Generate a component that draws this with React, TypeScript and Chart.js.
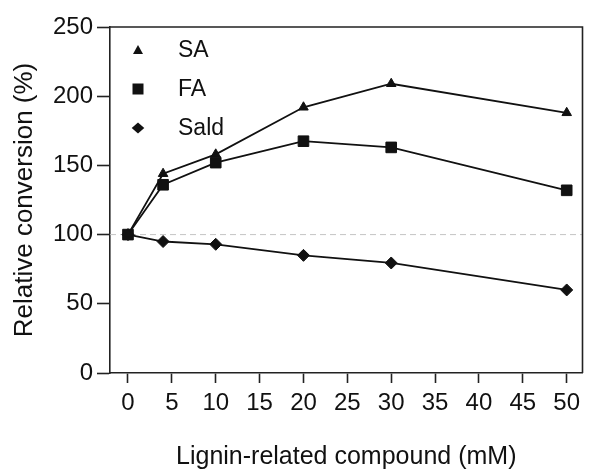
import { useEffect, useRef } from 'react';
import { Chart, registerables } from 'chart.js';

Chart.register(...registerables);

const concentrations = [0, 4, 10, 20, 30, 50];
const saValues = [100, 144, 158, 192, 209, 188];
const faValues = [100, 136, 152, 167.5, 163, 132];
const saldValues = [100, 95, 93, 85, 79.5, 60];
const seriesNames = ['SA', 'FA', 'Sald'];
const xTickValues = [0, 5, 10, 15, 20, 25, 30, 35, 40, 45, 50];
const yTickValues = [0, 50, 100, 150, 200, 250];
const referenceLevel = 100;
const xTitle = 'Lignin-related compound (mM)';
const yTitle = 'Relative conversion (%)';

const FONT = "'Liberation Sans', Arial, Helvetica, sans-serif";
const INK = '#111';

function drawMarker(ctx: CanvasRenderingContext2D, style: string, x: number, y: number) {
  ctx.beginPath();
  if (style === 'triangle') {
    ctx.moveTo(x, y - 5);
    ctx.lineTo(x + 5, y + 4);
    ctx.lineTo(x - 5, y + 4);
    ctx.closePath();
  } else if (style === 'rect') {
    ctx.rect(x - 5.5, y - 5.5, 11, 11);
  } else {
    ctx.moveTo(x, y - 5.5);
    ctx.lineTo(x + 6.3, y);
    ctx.lineTo(x, y + 5.5);
    ctx.lineTo(x - 6.3, y);
    ctx.closePath();
  }
  ctx.fill();
}

const decorPlugin = {
  id: 'decor',
  beforeDatasetsDraw(chart: any) {
    const { ctx, chartArea, scales } = chart;
    const y = scales.y.getPixelForValue(referenceLevel);
    ctx.save();
    ctx.strokeStyle = '#c4c4c4';
    ctx.lineWidth = 1;
    ctx.setLineDash([6, 4]);
    ctx.beginPath();
    ctx.moveTo(chartArea.left, y);
    ctx.lineTo(chartArea.right, y);
    ctx.stroke();
    ctx.restore();
  },
  afterDraw(chart: any) {
    const { ctx, chartArea } = chart;
    ctx.save();
    ctx.strokeStyle = '#222';
    ctx.lineWidth = 1.6;
    ctx.beginPath();
    ctx.moveTo(chartArea.left, chartArea.top);
    ctx.lineTo(chartArea.right, chartArea.top);
    ctx.lineTo(chartArea.right, chartArea.bottom);
    ctx.stroke();
    // legend
    const styles = ['triangle', 'rect', 'rectRot'];
    ctx.fillStyle = INK;
    ctx.font = `23px ${FONT}`;
    ctx.textBaseline = 'middle';
    ctx.textAlign = 'left';
    seriesNames.forEach((name, i) => {
      const cy = chartArea.top + 23 + i * 39;
      drawMarker(ctx, styles[i], chartArea.left + 28, cy);
      ctx.fillText(name, chartArea.left + 68, cy + 1);
    });
    ctx.restore();
  },
};

export default function App() {
  const ref = useRef<HTMLCanvasElement>(null);
  useEffect(() => {
    document.body.style.margin = '0';
    const toPoints = (vals: number[]) => concentrations.map((x, i) => ({ x, y: vals[i] }));
    const common = {
      borderColor: INK,
      backgroundColor: INK,
      pointBackgroundColor: INK,
      pointBorderColor: INK,
      borderWidth: 1.8,
      pointBorderWidth: 1,
      tension: 0,
    };
    const chart = new Chart(ref.current!, {
      type: 'scatter',
      data: {
        datasets: [
          { ...common, label: seriesNames[0], data: toPoints(saValues), showLine: true, pointStyle: 'triangle', pointRadius: 5.5 },
          { ...common, label: seriesNames[1], data: toPoints(faValues), showLine: true, pointStyle: 'rect', pointRadius: 7.5 },
          { ...common, label: seriesNames[2], data: toPoints(saldValues), showLine: true, pointStyle: 'rectRot', pointRadius: 6 },
        ],
      },
      options: {
        responsive: false,
        animation: false,
        events: [],
        layout: { padding: { top: 27, right: 3, left: 0, bottom: 0 } },
        plugins: { legend: { display: false }, tooltip: { enabled: false } },
        scales: {
          x: {
            type: 'linear',
            min: -2.05,
            max: 51.8,
            afterFit: (s: any) => { s.height = 97; },
            afterBuildTicks: (s: any) => { s.ticks = xTickValues.map((v) => ({ value: v })); },
            border: { color: '#222', width: 1.6 },
            grid: { drawOnChartArea: false, drawTicks: true, tickLength: 10, tickColor: '#222', tickWidth: 1.6 },
            ticks: { color: INK, font: { family: FONT, size: 24 }, padding: 6, maxRotation: 0 },
            title: { display: true, text: xTitle, color: INK, font: { family: FONT, size: 25, lineHeight: 1 }, padding: { top: 0, bottom: 0 } },
          },
          y: {
            type: 'linear',
            min: 0,
            max: 250,
            afterFit: (s: any) => { s.width = 110; },
            afterBuildTicks: (s: any) => { s.ticks = yTickValues.map((v) => ({ value: v })); },
            border: { color: '#222', width: 1.6 },
            grid: { drawOnChartArea: false, drawTicks: true, tickLength: 13, tickColor: '#222', tickWidth: 1.6 },
            ticks: { color: INK, font: { family: FONT, size: 24 }, padding: 4 },
            title: { display: true, text: yTitle, color: INK, font: { family: FONT, size: 26, lineHeight: 1 }, padding: { top: 12, bottom: 0 } },
          },
        },
      },
      plugins: [decorPlugin],
    });
    return () => chart.destroy();
  }, []);
  return (
    <div style={{ width: 591, height: 470 }}>
      <canvas ref={ref} width={591} height={470} style={{ display: 'block' }} />
    </div>
  );
}
